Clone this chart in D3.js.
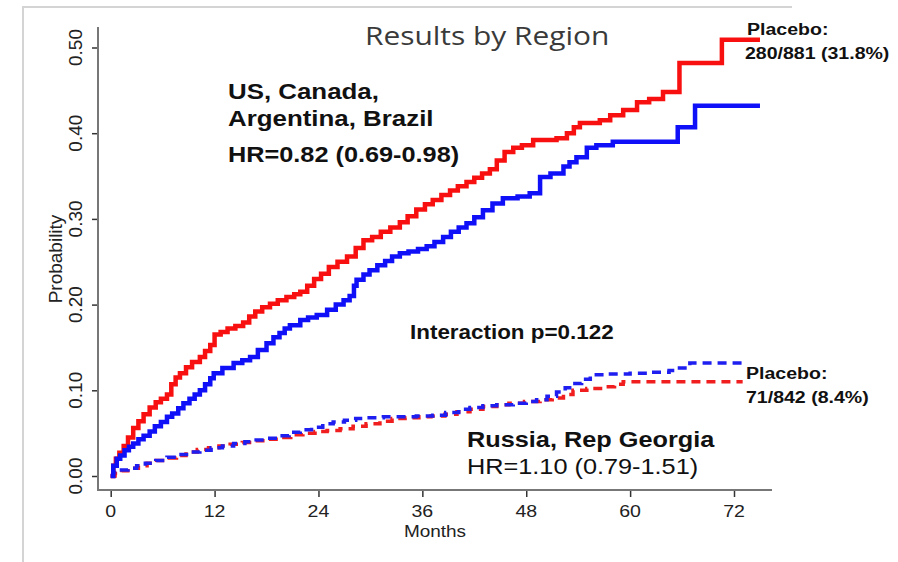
<!DOCTYPE html>
<html>
<head>
<meta charset="utf-8">
<script src="https://cdn.jsdelivr.net/npm/d3@7"></script>
<style>
    body { margin: 0; background: #fff; }
    svg { display: block; font-family: "Liberation Sans", Arial, sans-serif; }
</style>
</head>
<body>
<svg id="chart" width="898" height="562"></svg>
<script>
// Kaplan-Meier estimates: [month, probability]
const usPlacebo = [
    [0, 0], [0.3, 0.012], [0.6, 0.02], [1.0, 0.027], [1.5, 0.035], [2.0, 0.045], [2.6, 0.056],
    [3.2, 0.064], [3.8, 0.072], [4.5, 0.080], [5.2, 0.086], [5.8, 0.090], [6.5, 0.095],
    [7.0, 0.107], [7.5, 0.115], [8.0, 0.120], [8.7, 0.127], [9.4, 0.133], [10.3, 0.139],
    [10.9, 0.146], [11.5, 0.153], [12.0, 0.165], [12.7, 0.168], [13.5, 0.172], [14.4, 0.175],
    [15.3, 0.179], [16.0, 0.186], [16.7, 0.192], [17.5, 0.197], [18.4, 0.201], [19.3, 0.205],
    [20.3, 0.209], [21.2, 0.212], [21.9, 0.215], [22.7, 0.222], [23.5, 0.230], [24.3, 0.236],
    [25.2, 0.244], [26.2, 0.250], [27.3, 0.256], [28.3, 0.266], [29.2, 0.275], [30.2, 0.279],
    [31.2, 0.285], [32.3, 0.290], [33.4, 0.296], [34.3, 0.303], [35.3, 0.311], [36.3, 0.317],
    [37.2, 0.322], [38.2, 0.328], [39.2, 0.333], [40.1, 0.338], [41.1, 0.343], [42.0, 0.348],
    [42.9, 0.353], [43.8, 0.358], [44.6, 0.368], [45.5, 0.378], [46.5, 0.383], [47.5, 0.386],
    [48.8, 0.392], [51.5, 0.394], [52.7, 0.400], [53.5, 0.407], [54.2, 0.412], [56.5, 0.415],
    [57.7, 0.421], [59.2, 0.427], [60.8, 0.436], [62.2, 0.440], [63.8, 0.448], [65.7, 0.482],
    [70.6, 0.509], [75, 0.509]
];
const usTreat = [
    [0, 0], [0.3, 0.012], [0.7, 0.020], [1.1, 0.024], [1.6, 0.030], [2.1, 0.034], [2.6, 0.038],
    [3.2, 0.043], [3.8, 0.047], [4.5, 0.052], [5.1, 0.058], [5.8, 0.063], [6.5, 0.069],
    [7.1, 0.073], [7.8, 0.079], [8.4, 0.085], [9.1, 0.090], [9.7, 0.095], [10.3, 0.100],
    [10.9, 0.107], [11.5, 0.114], [11.9, 0.120], [12.9, 0.126], [14.2, 0.132], [15.2, 0.135],
    [16.1, 0.139], [17.0, 0.147], [18.0, 0.155], [18.8, 0.162], [19.5, 0.167], [20.1, 0.172],
    [20.7, 0.176], [21.9, 0.182], [22.8, 0.185], [23.8, 0.188], [25.0, 0.194], [26.0, 0.200],
    [26.9, 0.205], [27.6, 0.210], [28.1, 0.222], [28.4, 0.229], [29.2, 0.235], [29.9, 0.240],
    [30.8, 0.246], [31.7, 0.251], [32.5, 0.256], [33.4, 0.260], [34.4, 0.262], [35.5, 0.265],
    [36.5, 0.268], [37.4, 0.273], [38.4, 0.279], [39.3, 0.285], [40.2, 0.290], [41.1, 0.295],
    [42.0, 0.302], [43.0, 0.310], [44.1, 0.318], [45.3, 0.324], [47.0, 0.326], [48.4, 0.330],
    [49.6, 0.349], [50.8, 0.353], [52.3, 0.361], [53.0, 0.366], [53.8, 0.372], [55.0, 0.383],
    [56.1, 0.386], [58.0, 0.390], [65.5, 0.407], [67.5, 0.432], [75, 0.432]
];
const ruPlacebo = [
    [0, 0], [0.5, 0.003], [1.3, 0.006], [2.2, 0.009], [3.2, 0.012], [4.2, 0.015], [5.3, 0.018],
    [6.5, 0.021], [7.6, 0.024], [8.7, 0.028], [10.0, 0.031], [11.3, 0.033], [12.5, 0.035],
    [13.8, 0.037], [15.2, 0.039], [16.6, 0.041], [18.0, 0.043], [19.4, 0.045], [20.8, 0.048],
    [22.2, 0.050], [23.6, 0.052], [25.0, 0.053], [26.5, 0.055], [28.0, 0.058], [29.5, 0.061],
    [31.1, 0.064], [32.5, 0.067], [34.0, 0.068], [35.6, 0.069], [37.0, 0.070], [38.6, 0.072],
    [40.0, 0.075], [41.5, 0.078], [43.0, 0.081], [44.6, 0.083], [46.0, 0.085], [47.8, 0.087],
    [49.6, 0.089], [51.0, 0.091], [52.3, 0.095], [53.4, 0.100], [55.0, 0.102], [56.8, 0.104],
    [58.2, 0.107], [59.2, 0.110], [73, 0.110]
];
const ruTreat = [
    [0, 0], [0.3, 0.004], [1.0, 0.007], [2.0, 0.009], [3.0, 0.012], [4.0, 0.015], [5.2, 0.018],
    [6.5, 0.022], [7.8, 0.025], [9.0, 0.028], [10.3, 0.030], [11.6, 0.033], [12.9, 0.035],
    [14.2, 0.038], [15.5, 0.040], [16.8, 0.042], [18.0, 0.044], [19.3, 0.047], [20.6, 0.051],
    [21.9, 0.054], [23.2, 0.057], [24.5, 0.061], [25.7, 0.063], [27.0, 0.065], [28.3, 0.067],
    [29.6, 0.068], [31.5, 0.069], [35.3, 0.070], [37.2, 0.071], [38.7, 0.074], [40.2, 0.078],
    [41.5, 0.080], [43.0, 0.082], [44.6, 0.083], [46.5, 0.085], [48.0, 0.087], [49.2, 0.089],
    [50.4, 0.093], [51.5, 0.098], [52.5, 0.103], [53.4, 0.108], [54.4, 0.113], [55.4, 0.118],
    [57.5, 0.119], [60.0, 0.120], [62.5, 0.121], [64.5, 0.123], [65.7, 0.126], [66.9, 0.132],
    [73, 0.132]
];

const monthTicks = [0, 12, 24, 36, 48, 60, 72];
const probTicks = [0, 0.1, 0.2, 0.3, 0.4, 0.5];

const titleText = "Results by Region";
const usLabel = ["US, Canada,", "Argentina, Brazil", "HR=0.82 (0.69-0.98)"];
const ruLabel = ["Russia, Rep Georgia", "HR=1.10 (0.79-1.51)"];
const usPlaceboLabel = ["Placebo:", "280/881 (31.8%)"];
const ruPlaceboLabel = ["Placebo:", "71/842 (8.4%)"];
const interactionText = "Interaction p=0.122";

/** Class drawing the region KM plot. */
class RegionChart {
    constructor() {
        this.svg = d3.select("#chart");
        // plot frame (L-shaped axes)
        this.left = 98; this.right = 772; this.top = 27; this.bottom = 490;
        this.x = d3.scaleLinear().domain([0, 72]).range([110.7, 734]);
        this.y = d3.scaleLinear().domain([0, 0.5]).range([476, 47.5]);
        this.sx = 1.15; // the source picture is a bit wide
    }

    /**
     * Adds a horizontal text, stretched a little sideways like the source
     */
    addText(str, x, y, size, weight, anchor, fill) {
        this.svg.append("text")
            .attr("transform", "translate(" + x + "," + y + ") scale(" + this.sx + ",1)")
            .attr("text-anchor", anchor || "start")
            .style("font-size", size + "px")
            .style("font-weight", weight || "normal")
            .attr("fill", fill || "#111")
            .text(str);
    }

    drawFrame() {
        // light border of the pasted picture
        this.svg.append("path")
            .attr("d", "M23,562V7H792")
            .attr("fill", "none")
            .attr("stroke", "#d4d4d4")
            .attr("stroke-width", 2);
    }

    drawAxes() {
        let xAxis = d3.axisBottom(this.x).tickValues(monthTicks).tickSize(7).tickFormat(d3.format("d"));
        let gx = this.svg.append("g")
            .attr("transform", "translate(0," + this.bottom + ")")
            .call(xAxis);
        gx.select(".domain").remove();
        gx.selectAll(".tick line").attr("stroke", "#333").attr("stroke-width", 1.5);
        gx.selectAll(".tick text").remove();

        let yAxis = d3.axisLeft(this.y).tickValues(probTicks).tickSize(6).tickFormat(d3.format(".2f"));
        let gy = this.svg.append("g")
            .attr("transform", "translate(" + this.left + ",0)")
            .call(yAxis);
        gy.select(".domain").remove();
        gy.selectAll(".tick line").attr("stroke", "#333").attr("stroke-width", 1.5);
        gy.selectAll(".tick text").remove();

        // axis lines
        this.svg.append("path")
            .attr("d", "M" + this.left + "," + this.top + "V" + this.bottom + "H" + this.right)
            .attr("fill", "none")
            .attr("stroke", "#777")
            .attr("stroke-width", 2);

        // tick labels
        monthTicks.forEach(m => {
            this.addText(m, this.x(m), 517, 17, "normal", "middle", "#222");
        });
        probTicks.forEach(p => {
            this.svg.append("text")
                .attr("transform", "translate(82," + this.y(p) + ") rotate(-90)")
                .attr("text-anchor", "middle")
                .style("font-size", "19px")
                .attr("fill", "#222")
                .text(d3.format(".2f")(p));
        });

        this.addText("Months", (this.left + this.right) / 2, 537, 16.5, "normal", "middle", "#222");
        this.svg.append("text")
            .attr("transform", "translate(62,259) rotate(-90)")
            .attr("text-anchor", "middle")
            .style("font-size", "19px")
            .attr("fill", "#222")
            .text("Probability");
    }

    drawCurves() {
        let line = d3.line()
            .x(d => this.x(d[0]))
            .y(d => this.y(d[1]))
            .curve(d3.curveStepAfter);

        let series = [
            { data: ruPlacebo, color: "#f01e1e", dash: "9,6", width: 3.5 },
            { data: ruTreat, color: "#1e1ef0", dash: "9,6", width: 3.5 },
            { data: usPlacebo, color: "#f81010", dash: null, width: 4.5 },
            { data: usTreat, color: "#1010f8", dash: null, width: 4.5 }
        ];

        this.svg.append("g")
            .selectAll("path")
            .data(series)
            .enter()
            .append("path")
            .attr("d", d => line(d.data))
            .attr("fill", "none")
            .attr("stroke", d => d.color)
            .attr("stroke-width", d => d.width)
            .attr("stroke-dasharray", d => d.dash);
    }

    drawLabels() {
        // title in a Calibri-like face
        this.svg.append("text")
            .attr("transform", "translate(365,45) scale(" + this.sx + ",1)")
            .style("font-family", "'Open Sans', sans-serif")
            .style("font-size", "26px")
            .attr("fill", "#3a3a3a")
            .text(titleText);

        this.addText(usLabel[0], 228, 99, 22.5, "bold");
        this.addText(usLabel[1], 228, 126, 22.5, "bold");
        this.addText(usLabel[2], 228, 162, 22, "bold");

        this.addText(interactionText, 410, 339, 19.5, "bold");

        this.addText(ruLabel[0], 467, 447, 22, "bold");
        this.addText(ruLabel[1], 467, 474, 22, "normal");

        this.addText(usPlaceboLabel[0], 747, 35, 17, "bold");
        this.addText(usPlaceboLabel[1], 745, 59, 17, "bold");
        this.addText(ruPlaceboLabel[0], 746, 379, 17, "bold");
        this.addText(ruPlaceboLabel[1], 746, 403, 17, "bold");
    }

    draw() {
        this.drawFrame();
        this.drawAxes();
        this.drawCurves();
        this.drawLabels();
    }
}

let chart = new RegionChart();
chart.draw();
</script>
</body>
</html>
